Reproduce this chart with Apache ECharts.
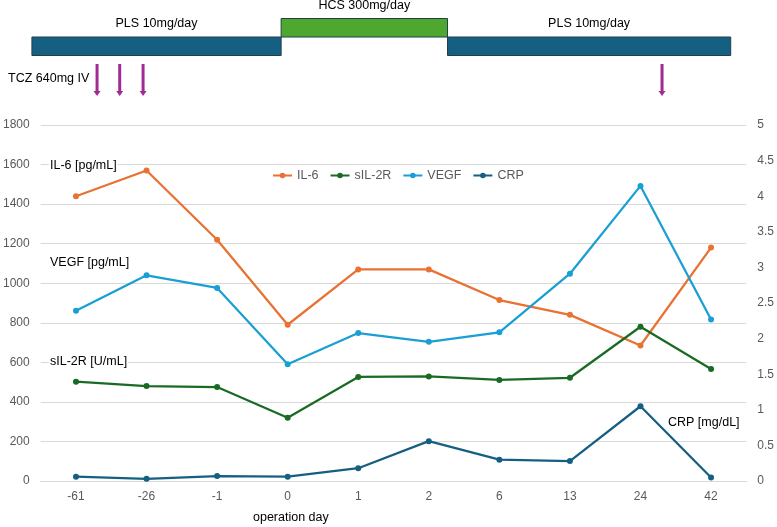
<!DOCTYPE html>
<html>
<head>
<meta charset="utf-8">
<script src="https://cdn.jsdelivr.net/npm/echarts@6/dist/echarts.min.js"></script>
<style>
  html, body { margin: 0; padding: 0; background: #fff; }
  #chart { width: 777px; height: 527px; }
</style>
</head>
<body>
<div id="chart"></div>
<script>
const days = ['-61', '-26', '-1', '0', '1', '2', '6', '13', '24', '42']
const il6 = [1440, 1570, 1220, 790, 1070, 1070, 915, 840, 685, 1180]
const sil2r = [502, 480, 475, 320, 526, 529, 511, 522, 780, 566]
const vegf = [861, 1040, 976, 590, 748, 704, 752, 1048, 1492, 817]
const crp = [0.06, 0.03, 0.07, 0.06, 0.18, 0.56, 0.30, 0.28, 1.05, 0.05]

// treatment phases: label, start, end (in day-category index units), raised level
const phases = [
  ['PLS 10mg/day', -0.6, 2.92, 0],
  ['HCS 300mg/day', 2.92, 5.27, 1],
  ['PLS 10mg/day', 5.27, 9.27, 0],
]
// TCZ infusions, same index units
const tczDoses = [0.32, 0.64, 0.97, 8.3]

const FONT = '"Liberation Sans", Arial, sans-serif'
const GRAY = '#595959'

const chart = echarts.init(document.getElementById('chart'), null, { renderer: 'canvas' })

const lineSeries = (name, data, color, yAxisIndex) => ({
  name,
  type: 'line',
  data,
  yAxisIndex,
  symbol: 'circle',
  symbolSize: 6,
  itemStyle: { color },
  lineStyle: { color, width: 2.25 },
})

const note = (text, x, y) => ({
  type: 'text',
  x,
  y,
  z: 100,
  style: {
    text,
    font: '12.5px ' + FONT,
    fill: '#000',
    verticalAlign: 'middle',
    backgroundColor: '#fff',
    padding: [1, 1],
  },
})

chart.setOption({
  animation: false,
  textStyle: { fontFamily: FONT },
  grid: [
    { left: 39, right: 30, top: 125, height: 356 },
    { left: 39, right: 30, top: 18.5, height: 37 },
  ],
  legend: {
    data: ['IL-6', 'sIL-2R', 'VEGF', 'CRP'],
    left: 267,
    top: 164,
    itemWidth: 19,
    itemHeight: 7,
    itemGap: 11,
    textStyle: { color: GRAY, fontSize: 12.5 },
  },
  xAxis: [
    {
      type: 'category',
      data: days,
      gridIndex: 0,
      axisLine: { lineStyle: { color: '#d9d9d9' } },
      axisTick: { show: false },
      axisLabel: { color: GRAY, fontSize: 12, margin: 10 },
    },
    { type: 'value', gridIndex: 1, min: -0.5, max: 9.5, show: false },
  ],
  yAxis: [
    {
      type: 'value',
      gridIndex: 0,
      min: 0,
      max: 1800,
      interval: 200,
      axisLine: { show: false },
      axisTick: { show: false },
      axisLabel: { color: GRAY, fontSize: 12, margin: 11, formatter: (v) => String(v) },
      splitLine: { lineStyle: { color: '#d9d9d9' } },
    },
    {
      type: 'value',
      gridIndex: 0,
      position: 'right',
      min: 0,
      max: 5,
      interval: 0.5,
      axisLine: { show: false },
      axisTick: { show: false },
      axisLabel: { color: GRAY, fontSize: 12, margin: 11, formatter: (v) => String(v) },
      splitLine: { show: false },
    },
    { type: 'value', gridIndex: 1, min: 0, max: 2, show: false },
  ],
  graphic: [
    note('TCZ 640mg IV', 7, 79),
    note('IL-6 [pg/mL]', 49, 166),
    note('VEGF [pg/mL]', 49, 263),
    note('sIL-2R [U/mL]', 49, 362),
    note('CRP [mg/dL]', 667, 423),
    note('operation day', 252, 518),
  ],
  series: [
    lineSeries('IL-6', il6, '#e97132', 0),
    lineSeries('sIL-2R', sil2r, '#196b24', 0),
    lineSeries('VEGF', vegf, '#1a9fd4', 0),
    lineSeries('CRP', crp, '#156082', 1),
    {
      type: 'custom',
      xAxisIndex: 1,
      yAxisIndex: 2,
      clip: false,
      silent: true,
      data: phases.map((p) => [p[1], p[2], p[3]]),
      renderItem: (params, api) => {
        const lvl = api.value(2)
        const a = api.coord([api.value(0), lvl])
        const b = api.coord([api.value(1), lvl + 1])
        return {
          type: 'group',
          children: [
            {
              type: 'rect',
              shape: { x: a[0], y: b[1], width: b[0] - a[0], height: a[1] - b[1] },
              style: { fill: lvl ? '#4ea72e' : '#156082', stroke: '#223f48', lineWidth: 1 },
            },
            {
              type: 'text',
              style: {
                text: phases[params.dataIndex][0],
                x: (a[0] + b[0]) / 2,
                y: b[1] - 13,
                align: 'center',
                verticalAlign: 'middle',
                font: '12.5px ' + FONT,
                fill: '#000',
              },
            },
          ],
        }
      },
    },
    {
      type: 'custom',
      xAxisIndex: 1,
      yAxisIndex: 2,
      clip: false,
      silent: true,
      data: tczDoses.map((d) => [d, 0]),
      renderItem: (params, api) => {
        const p = api.coord([api.value(0), 0])
        const x = p[0]
        const y0 = p[1] + 8.5
        const y1 = p[1] + 40.5
        return {
          type: 'group',
          children: [
            { type: 'rect', shape: { x: x - 1.5, y: y0, width: 3, height: y1 - y0 - 4 }, style: { fill: '#a02b93' } },
            {
              type: 'polygon',
              shape: { points: [[x - 3.5, y1 - 5], [x + 3.5, y1 - 5], [x, y1]] },
              style: { fill: '#a02b93' },
            },
          ],
        }
      },
    },
  ],
})
</script>
</body>
</html>
